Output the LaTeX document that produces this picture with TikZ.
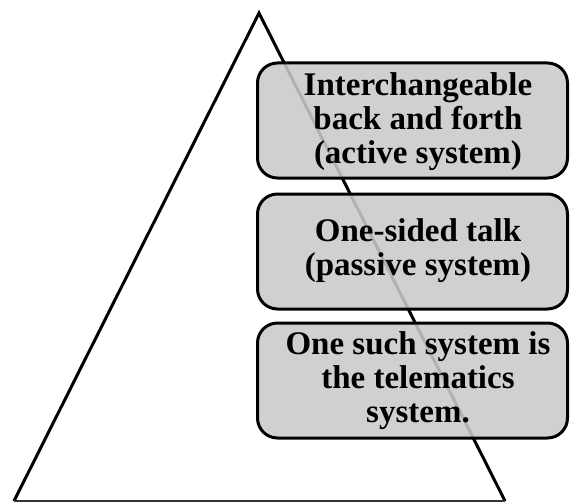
\documentclass[tikz,border=0pt]{standalone}
\usepackage{fontspec}
\setmainfont{Liberation Serif}
\begin{document}
\begin{tikzpicture}[x=1pt,y=-1pt,
  stagebox/.style={draw=black, line width=3pt, rounded corners=20pt,
    fill={rgb,255:red,202;green,202;blue,202}, fill opacity=0.88, draw opacity=1,
    minimum width=310pt, minimum height=115pt, inner sep=0pt},
  stagetext/.style={align=center, font=\bfseries\fontsize{33}{34}\selectfont, inner sep=0pt, text=black}]
\useasboundingbox (0,0) rectangle (570,503);
% pyramid
\coordinate (apex) at (259,13);
\coordinate (bl) at (14,501);
\coordinate (br) at (505,501);
\draw[line width=3pt, line join=miter] (bl) -- (apex) -- (br);
\draw[line width=2pt, black!80] (bl) -- (br);
% boxes
\node[stagebox] (b1) at (412.5,120.5) {};
\node[stagebox] (b2) at (412.5,251.5) {};
\node[stagebox] (b3) at (412.5,380.5) {};
\node[stagetext] (t1) at ([xshift=5.5pt,yshift=-1pt]b1.center) {Interchangeable\\back and forth\\(active system)};
\node[stagetext] (t2) at ([xshift=5.5pt,yshift=1pt]b2.center) {One-sided talk\\(passive system)};
\node[stagetext] (t3) at ([xshift=5.5pt,yshift=0pt]b3.center) {One such system is\\the telematics\\system.};
\end{tikzpicture}
\end{document}
